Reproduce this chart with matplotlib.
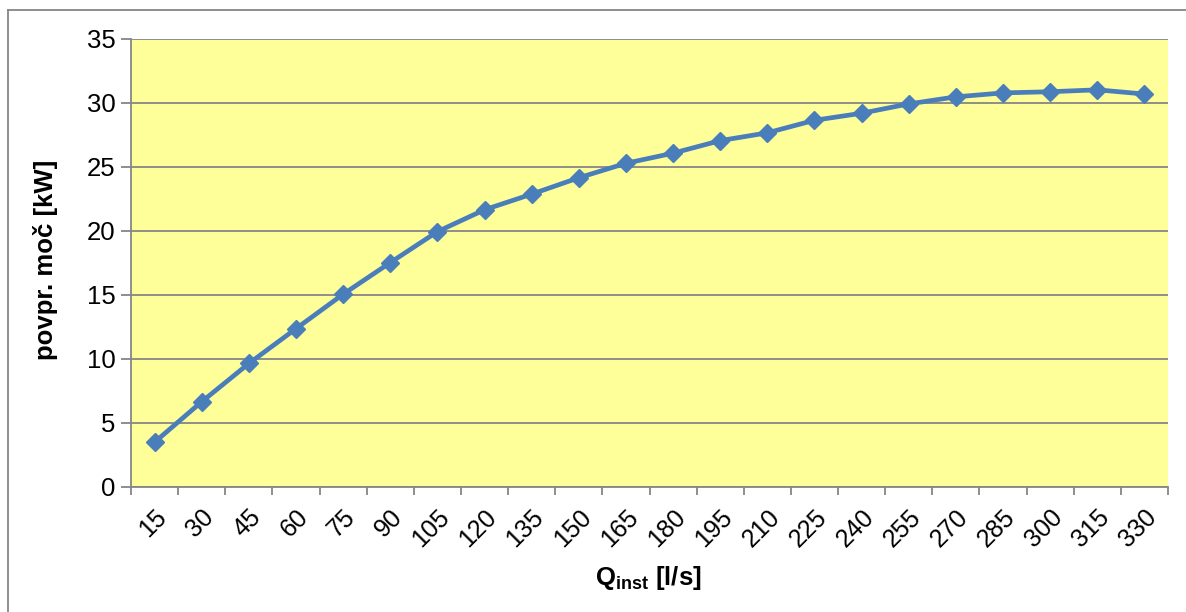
import numpy as np
import matplotlib
matplotlib.use("Agg")
import matplotlib.pyplot as plt
from matplotlib.lines import Line2D

plt.rcParams['font.family'] = ['Liberation Sans', 'DejaVu Sans']
plt.rcParams['mathtext.fontset'] = 'custom'
plt.rcParams['mathtext.bf'] = 'Liberation Sans:bold'
plt.rcParams['mathtext.rm'] = 'Liberation Sans'

# Q_inst [l/s] and average power [kW]
q_inst = [15, 30, 45, 60, 75, 90, 105, 120, 135, 150, 165, 180,
          195, 210, 225, 240, 255, 270, 285, 300, 315, 330]
power = [3.5, 6.66, 9.65, 12.37, 15.06, 17.53, 19.95, 21.66, 22.88, 24.16, 25.29, 26.08,
         27.06, 27.67, 28.65, 29.2, 29.93, 30.48, 30.79, 30.88, 31.03, 30.7]
y_ticks = [0, 5, 10, 15, 20, 25, 30, 35]

W, H = 1186, 612
fig = plt.figure(figsize=(W / 100, H / 100), dpi=100)
ax = fig.add_axes([131 / W, 1 - 487 / H, (1168 - 131) / W, (487 - 39) / H])

grey = '#868686'
ax.set_facecolor('#FFFF99')
x = np.arange(len(q_inst))
ax.plot(x, power, color='#4A7EBB', lw=3.4, marker='D', ms=9.5, zorder=3)

ax.set_xlim(-0.5, len(q_inst) - 0.5)
ax.set_ylim(0, 35)
ax.set_yticks(y_ticks)
ax.yaxis.grid(True, color=grey, lw=1.3)
ax.set_axisbelow(True)

# category labels centred, tick marks on the boundaries
ax.set_xticks(x)
ax.set_xticklabels([str(v) for v in q_inst], rotation=45, ha='right',
                   rotation_mode='anchor', fontsize=18)
ax.tick_params(axis='x', which='major', length=0, pad=13)
ax.set_xticks(np.arange(-0.5, len(q_inst)), minor=True)
ax.tick_params(axis='x', which='minor', length=6, color=grey, width=1.3)
ax.tick_params(axis='y', length=7, color=grey, width=1.3, labelsize=18.5, pad=4)

for s in ['top', 'right']:
    ax.spines[s].set_visible(False)
for s in ['left', 'bottom']:
    ax.spines[s].set_color(grey)
    ax.spines[s].set_linewidth(1.3)

fig.text(46 / W, 1 - 260 / H, 'povpr. moč [kW]', fontsize=18.5, fontweight='bold',
         rotation=90, ha='center', va='center')
fig.text(648 / W, 1 - 578 / H, r'Q$_{\mathbf{inst}}$ [l/s]', fontsize=18.5, fontweight='bold',
         ha='center', va='center')

# outer chart border (top and left visible)
fig.add_artist(Line2D([8 / W, 1], [1 - 10 / H, 1 - 10 / H], color=grey, lw=1.3,
                      transform=fig.transFigure))
fig.add_artist(Line2D([8 / W, 8 / W], [0, 1 - 10 / H], color=grey, lw=1.3,
                      transform=fig.transFigure))

fig.savefig('out.png', dpi=100)
